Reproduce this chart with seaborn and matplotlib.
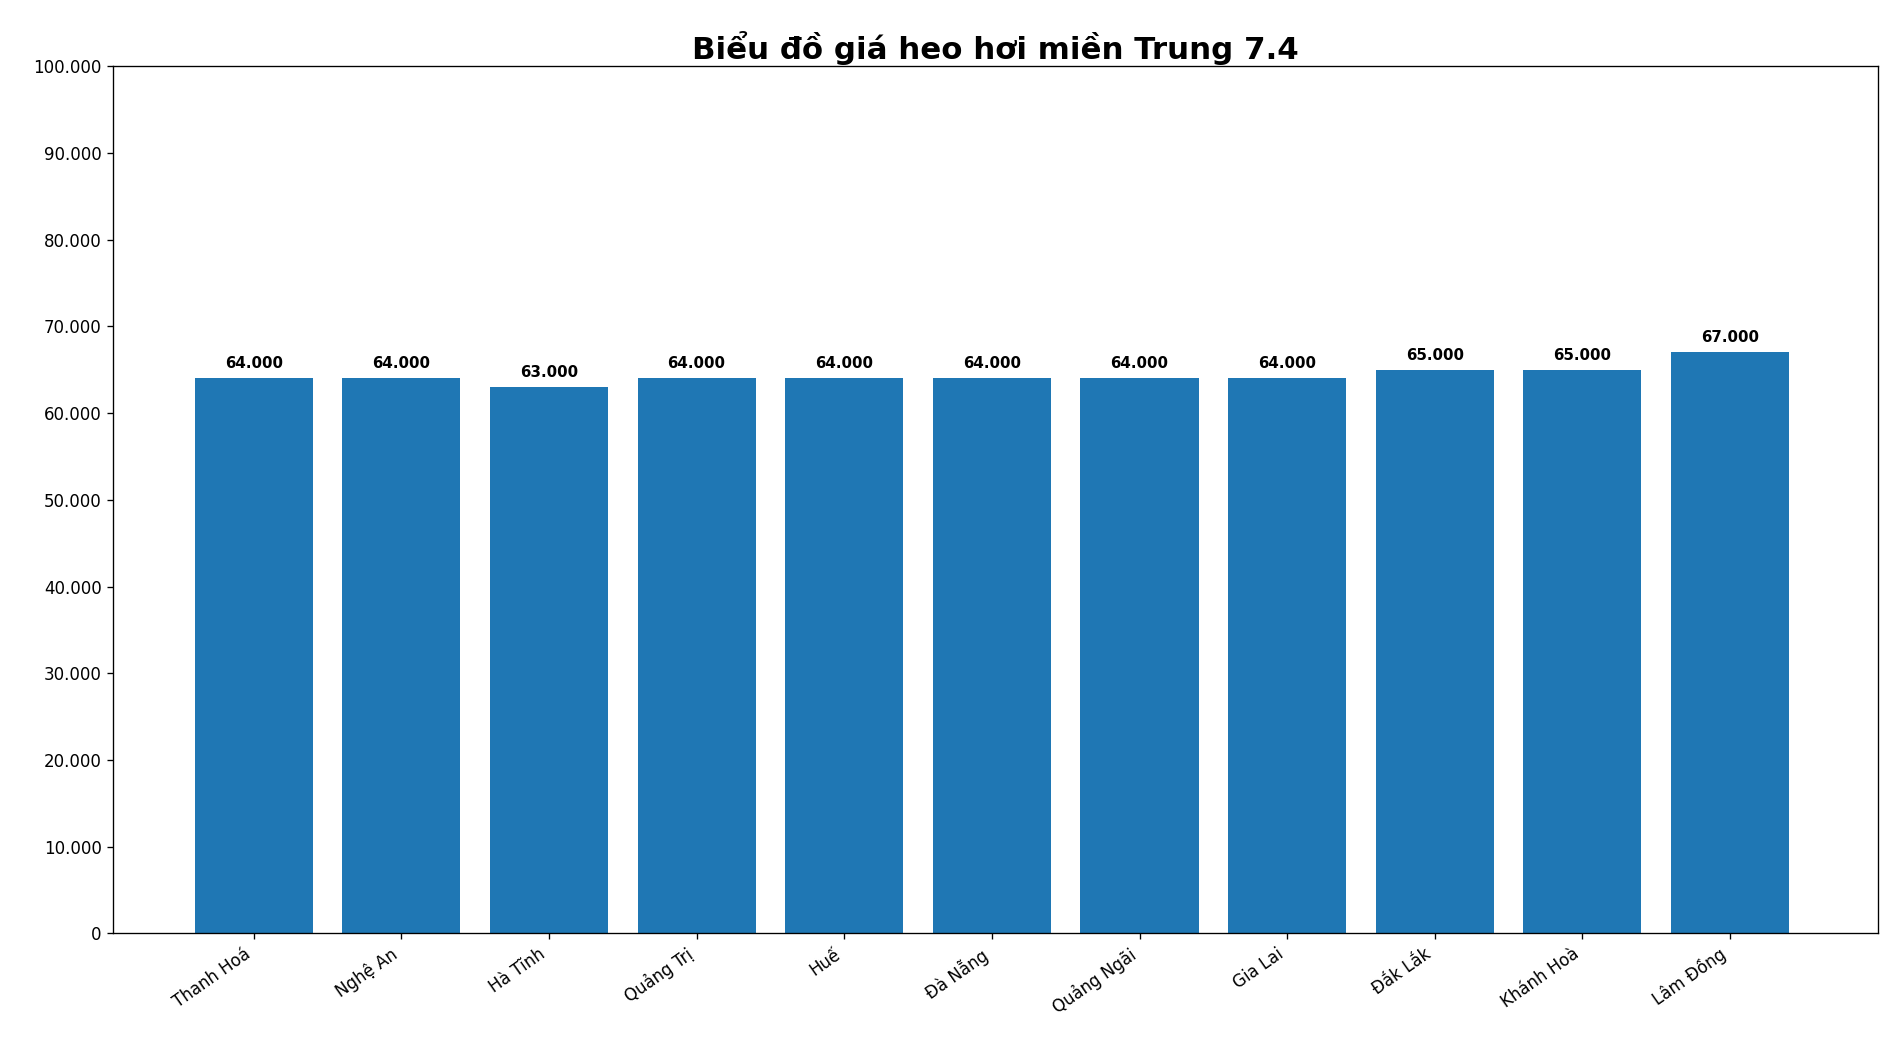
import matplotlib
matplotlib.use("Agg")
import matplotlib.pyplot as plt
import seaborn as sns
import pandas as pd
from matplotlib.ticker import FuncFormatter

provinces = ["Thanh Hoá", "Nghệ An", "Hà Tĩnh", "Quảng Trị", "Huế", "Đà Nẵng",
             "Quảng Ngãi", "Gia Lai", "Đắk Lắk", "Khánh Hoà", "Lâm Đồng"]
prices = [64000, 64000, 63000, 64000, 64000, 64000, 64000, 64000, 65000, 65000, 67000]

df = pd.DataFrame({"province": provinces, "price": prices})
fmt = lambda v: f"{int(v):,}".replace(",", ".")

fig = plt.figure(figsize=(15.75, 8.75), dpi=120)
ax = fig.add_axes([0.06, 0.111, 0.9335, 0.826])
sns.barplot(data=df, x="province", y="price", color="#1f77b4", saturation=1, width=0.8, ax=ax)
for i, v in enumerate(prices):
    ax.text(i, v + 800, fmt(v), ha="center", va="bottom", fontsize=9, fontweight="bold")
ax.set_ylim(0, 100000)
ax.set_xlim(-0.95, 11.0)
ax.set_yticks(range(0, 100001, 10000))
ax.yaxis.set_major_formatter(FuncFormatter(lambda v, p: fmt(v)))
ax.set_xlabel("")
ax.set_ylabel("")
plt.setp(ax.get_xticklabels(), rotation=35, ha="right")
ax.set_title("Biểu đồ giá heo hơi miền Trung 7.4", fontsize=18.5, fontweight="bold", pad=4)
fig.savefig("out.png")
